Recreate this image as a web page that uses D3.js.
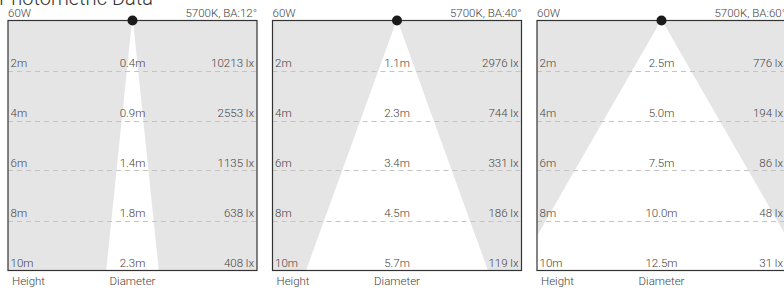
<!DOCTYPE html>
<html>
<head>
<meta charset="utf-8">
<script src="https://cdn.jsdelivr.net/npm/d3@7"></script>
<style>
  body { margin: 0; background: #fff; }
  svg text { font-family: Roboto, "Noto Sans", sans-serif; font-weight: 300; fill: #444; }
</style>
</head>
<body>
<div id="chart"></div>
<script>
// ---------------------------//
//           DATA             //
// ---------------------------//
const heights = [2, 4, 6, 8, 10];
const power = "60W";
const colourTemp = "5700K";
const beamAngles = [12, 40, 60];
const diameters = [
    [0.4, 0.9, 1.4, 1.8, 2.3],
    [1.1, 2.3, 3.4, 4.5, 5.7],
    [2.5, 5.0, 7.5, 10.0, 12.5]
];
const lux = [
    [10213, 2553, 1135, 638, 408],
    [2976, 744, 331, 186, 119],
    [776, 194, 86, 48, 31]
];

// ---------------------------//
//       SET  CANVAS          //
// ---------------------------//
const W = 784, H = 288;
const panelW = 249, gap = 15.5;
const boxTop = 20.5, boxBottom = 270.5;

const svg = d3.select("#chart")
    .append("svg")
    .attr("width", W)
    .attr("height", H);

// Title (partly cut off at the top)
svg.append("text")
    .attr("x", -1)
    .attr("y", 5)
    .style("font-size", "20px")
    .style("fill", "#333")
    .text("Photometric Data");

// Height scale (metres -> pixels), shared by every panel
const y = d3.scaleLinear().domain([0, 10]).range([boxTop, boxBottom]);
const pxPerM = (boxBottom - boxTop) / 10;

beamAngles.forEach((ba, i) => {
    const x0 = 8 + i * (panelW + gap);
    const cx = x0 + panelW / 2;
    // horizontal scale centred on the light (same metres -> pixels)
    const x = d3.scaleLinear()
        .domain([-panelW / 2 / pxPerM, panelW / 2 / pxPerM])
        .range([x0, x0 + panelW]);

    const g = svg.append("g");

    // clip to the box
    g.append("clipPath")
        .attr("id", "clip" + i)
        .append("rect")
        .attr("x", x0).attr("y", boxTop)
        .attr("width", panelW).attr("height", boxBottom - boxTop);

    g.append("rect")
        .attr("x", x0).attr("y", boxTop)
        .attr("width", panelW).attr("height", boxBottom - boxTop)
        .attr("fill", "#e5e5e6");

    // light cone from the beam angle
    const half = d => d * Math.tan(ba / 2 * Math.PI / 180);
    const hMax = d3.max(heights);
    g.append("path")
        .attr("clip-path", `url(#clip${i})`)
        .attr("fill", "#fff")
        .attr("d", d3.line()([
            [x(-0.02), y(0)], [x(0.02), y(0)],
            [x(half(hMax)), y(hMax)], [x(-half(hMax)), y(hMax)]
        ]) + "Z");

    // dashed height lines
    g.selectAll(".grid")
        .data(heights.filter(h => h < hMax))
        .enter()
        .append("line")
        .attr("x1", x0).attr("x2", x0 + panelW)
        .attr("y1", d => Math.round(y(d)) + 0.5)
        .attr("y2", d => Math.round(y(d)) + 0.5)
        .attr("stroke", "#c4c4c4")
        .attr("stroke-width", 1)
        .attr("stroke-dasharray", "5,4");

    // row labels
    const rows = g.selectAll(".row")
        .data(heights)
        .enter()
        .append("g");

    rows.append("text")
        .attr("x", x0 + 2.5)
        .attr("y", d => y(d) - 4)
        .style("font-size", "11.5px")
        .text(d => d + "m");

    rows.append("text")
        .attr("x", cx)
        .attr("y", d => y(d) - 4)
        .attr("text-anchor", "middle")
        .style("font-size", "11.5px")
        .text((d, j) => diameters[i][j].toFixed(1) + "m");

    rows.append("text")
        .attr("x", x0 + panelW - 3)
        .attr("y", d => y(d) - 4)
        .attr("text-anchor", "end")
        .style("font-size", "11.5px")
        .text((d, j) => lux[i][j] + " lx");

    // border
    g.append("rect")
        .attr("x", x0).attr("y", boxTop)
        .attr("width", panelW).attr("height", boxBottom - boxTop)
        .attr("fill", "none")
        .attr("stroke", "#333")
        .attr("stroke-width", 1.2);

    // light source
    g.append("circle")
        .attr("cx", cx).attr("cy", boxTop)
        .attr("r", 5)
        .attr("fill", "#1a1a1a");

    // header
    g.append("text")
        .attr("x", x0)
        .attr("y", 17)
        .style("font-size", "11.5px")
        .text(power);

    g.append("text")
        .attr("x", x0 + panelW)
        .attr("y", 17)
        .attr("text-anchor", "end")
        .style("font-size", "11.5px")
        .text(`${colourTemp}, BA:${ba}°`);

    // footer
    g.append("text")
        .attr("x", x0 + 4)
        .attr("y", 285)
        .style("font-size", "11.5px")
        .text("Height");

    g.append("text")
        .attr("x", cx)
        .attr("y", 285)
        .attr("text-anchor", "middle")
        .style("font-size", "11.5px")
        .text("Diameter");
});
</script>
</body>
</html>
